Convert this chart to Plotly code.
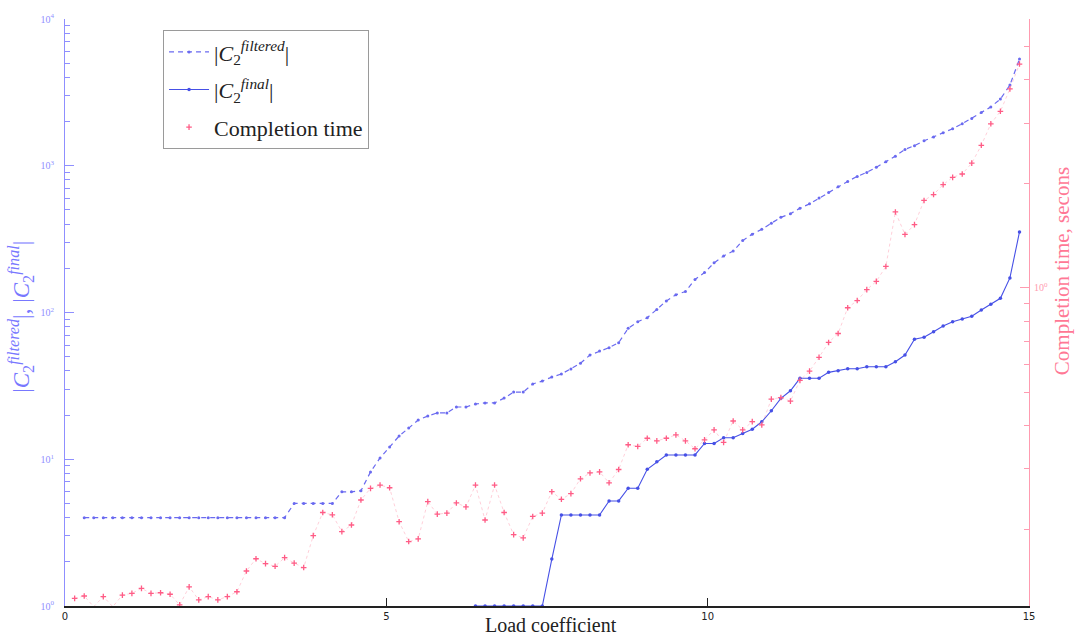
import plotly.graph_objects as go

# Load coefficient grid
loads = [0.150, 0.299, 0.447, 0.596, 0.744, 0.893, 1.041, 1.190, 1.338, 1.487,
         1.635, 1.784, 1.932, 2.081, 2.229, 2.378, 2.526, 2.675, 2.823, 2.972,
         3.120, 3.269, 3.417, 3.566, 3.714, 3.863, 4.011, 4.160, 4.308, 4.457,
         4.605, 4.754, 4.902, 5.051, 5.199, 5.348, 5.496, 5.645, 5.793, 5.942,
         6.090, 6.239, 6.387, 6.536, 6.684, 6.833, 6.981, 7.130, 7.278, 7.427,
         7.575, 7.724, 7.872, 8.021, 8.169, 8.318, 8.466, 8.615, 8.763, 8.912,
         9.060, 9.209, 9.357, 9.506, 9.654, 9.803, 9.951, 10.100, 10.248, 10.397,
         10.545, 10.694, 10.842, 10.991, 11.139, 11.288, 11.436, 11.585, 11.733, 11.882,
         12.030, 12.179, 12.327, 12.476, 12.624, 12.773, 12.921, 13.070, 13.218, 13.367,
         13.515, 13.664, 13.812, 13.961, 14.109, 14.258, 14.406, 14.555, 14.703, 14.852]

c2_filtered = [None,
               4.0, 4.0, 4.0, 4.0, 4.0, 4.0, 4.0, 4.0, 4.0, 4.0, 4.0,
               4.0, 4.0, 4.0, 4.0, 4.0, 4.0, 4.0, 4.0, 4.0, 4.0, 4.0,
               5.0, 5.0, 5.0, 5.0, 5.0,
               6.0, 6.0, 6.1,
               8.2, 10.2, 12.1, 14.4, 16.3, 18.5, 19.7, 20.7, 20.7, 22.7,
               22.7, 23.8, 24.2, 24.2, 26.1, 28.7, 28.7, 32.6, 34.1, 36.3, 38.1,
               41.2, 45.1, 51.3, 54.7, 57.6, 62.3, 78.0, 86.6, 92.2, 105,
               120, 132, 139, 168, 187, 218, 243, 262,
               309, 342, 369, 406, 445, 471, 514, 550, 602, 658,
               720, 782, 846, 901, 977, 1064, 1163, 1292, 1371, 1479,
               1570, 1678, 1786, 1935, 2099, 2306, 2518, 2846, 3550, 5335]

c2_final = [None] * 42 + [
    1.0, 1.0, 1.0, 1.0, 1.0, 1.0, 1.0, 1.0,
    2.09, 4.17, 4.17, 4.17, 4.17, 4.17, 5.2, 5.2, 6.34, 6.34,
    8.54, 9.62, 10.7, 10.7, 10.7, 10.7, 12.8, 12.8, 14.0, 14.0,
    15.0, 16.0, 18.0, 21.4, 26.0, 29.3, 35.6, 35.6, 35.6, 39.1,
    40.1, 41.4, 41.4, 42.7, 42.7, 42.7, 46.2, 51.3, 65.7, 67.8,
    74.0, 80.9, 86.6, 90.3, 94.2, 104, 114, 125, 172, 354]

completion_time = [
    0.1265, 0.1285, 0.1197, 0.1280, 0.1197, 0.1293, 0.1308, 0.1352, 0.1308, 0.1313,
    0.1300, 0.1211, 0.1366, 0.1252, 0.1280, 0.1252, 0.1280, 0.1322, 0.1518, 0.1647,
    0.1594, 0.1566, 0.1659, 0.1600, 0.1553, 0.1921, 0.2241, 0.2207, 0.1973, 0.2062,
    0.2436, 0.2632, 0.2691, 0.2643, 0.2108, 0.1847, 0.1880, 0.2410, 0.2217, 0.2232,
    0.2388, 0.2326, 0.2691, 0.2132, 0.2691, 0.2241, 0.1934, 0.1893, 0.2183, 0.2232,
    0.2574, 0.2447, 0.2541, 0.2805, 0.2917, 0.2937, 0.2731, 0.2984, 0.3519, 0.3480,
    0.3675, 0.3612, 0.3675, 0.3759, 0.3612, 0.3427, 0.3636, 0.3886, 0.3573, 0.4123,
    0.3886, 0.4104, 0.4015, 0.4768, 0.4819, 0.4706, 0.5403, 0.5745, 0.6302, 0.6956,
    0.7384, 0.8764, 0.9196, 0.9890, 1.045, 1.154, 1.659, 1.428, 1.525, 1.791,
    1.863, 1.990, 2.089, 2.136, 2.296, 2.586, 2.984, 3.243, 3.766, 4.443]

x_ticks = [0, 5, 10, 15]
y_major = [1, 10, 100, 1000, 10000]
y_major_text = ["10<sup>0</sup>", "10<sup>1</sup>", "10<sup>2</sup>", "10<sup>3</sup>", "10<sup>4</sup>"]
y_minor = [m * d for d in [1, 10, 100, 1000] for m in range(2, 10)]
y2_major = [1]
y2_major_text = ["10<sup>0</sup>"]
y2_minor = [0.2, 0.3, 0.4, 0.5, 0.6, 0.7, 0.8, 0.9, 2, 3, 4, 5, 6]

BLUE = "#4650e6"
BLUE_LIGHT = "#6a6af0"
AXBLUE = "#8f8fff"
PINK = "#ff5c86"
AXPINK = "#ff9bb0"
SERIF = "Liberation Serif, DejaVu Serif, serif"

fig = go.Figure()

fig.add_trace(go.Scatter(
    x=loads, y=c2_filtered, mode="lines+markers",
    name="|<i>C</i><sub>2</sub><sup><i>filtered</i></sup>|",
    legendgroup="a",
    line=dict(color=BLUE_LIGHT, width=1.2, dash="5px,4px"),
    marker=dict(color=BLUE_LIGHT, size=3),
    cliponaxis=False, yaxis="y"))

fig.add_trace(go.Scatter(
    x=loads, y=c2_final, mode="lines+markers",
    name="|<i>C</i><sub>2</sub><sup><i>final</i></sup>|",
    legendgroup="b",
    line=dict(color=BLUE, width=1.1),
    marker=dict(color=BLUE, size=3.5),
    cliponaxis=False, yaxis="y"))

fig.add_trace(go.Scatter(
    x=loads, y=completion_time, mode="lines",
    line=dict(color="rgba(255,160,180,0.5)", width=1, dash="dot"),
    showlegend=False, hoverinfo="skip", yaxis="y2"))

fig.add_trace(go.Scatter(
    x=loads, y=completion_time, mode="markers",
    name="Completion time",
    legendgroup="c",
    marker=dict(symbol="cross-thin", size=4, color=PINK,
                line=dict(color=PINK, width=1.3)),
    cliponaxis=False, yaxis="y2"))

fig.update_layout(
    width=1075, height=637,
    margin=dict(l=65, r=46, t=17, b=31),
    paper_bgcolor="white", plot_bgcolor="white",
    showlegend=True,
    legend=dict(x=0.1017, y=0.981, xanchor="left", yanchor="top",
                bgcolor="white", bordercolor="#9a9a9a", borderwidth=1,
                font=dict(family=SERIF, size=22, color="#222"),
                itemwidth=40, tracegroupgap=6),
    xaxis=dict(range=[0, 15], tickmode="array", tickvals=x_ticks,
               ticktext=[str(v) for v in x_ticks],
               ticks="inside", ticklen=8, tickcolor="#222", tickwidth=1.2,
               showline=True, linecolor="#222", linewidth=1.5,
               showgrid=False, zeroline=False,
               tickfont=dict(family="DejaVu Sans", size=10, color="#222")),
    yaxis=dict(type="log", range=[0, 4], tickmode="array", tickvals=y_major,
               ticktext=y_major_text, ticks="inside", ticklen=9,
               tickcolor=AXBLUE, showline=True, linecolor=AXBLUE, linewidth=1.2,
               showgrid=False, zeroline=False, ticklabelstandoff=8,
               tickfont=dict(family=SERIF, size=10, color=AXBLUE),
               minor=dict(tickmode="array", tickvals=y_minor, ticks="inside",
                          ticklen=5, tickcolor=AXBLUE, showgrid=False)),
    yaxis2=dict(type="log", range=[-0.92, 0.778], overlaying="y", side="right",
                tickmode="array", tickvals=y2_major, ticktext=y2_major_text,
                ticks="inside", ticklen=9, tickcolor=AXPINK,
                showline=True, linecolor=AXPINK, linewidth=1.2,
                showgrid=False, zeroline=False, ticklabelstandoff=2,
                tickfont=dict(family=SERIF, size=10, color=AXPINK),
                minor=dict(tickmode="array", tickvals=y2_minor, ticks="inside",
                           ticklen=5, tickcolor=AXPINK, showgrid=False)),
    annotations=[
        dict(text="Load coefficient", xref="paper", yref="paper",
             x=0.504, y=-0.032, xanchor="center", yanchor="middle",
             showarrow=False, font=dict(family=SERIF, size=20, color="#222")),
        dict(text="|<i>C</i><sub>2</sub><sup><i>filtered</i></sup>|, |<i>C</i><sub>2</sub><sup><i>final</i></sup>|",
             xref="paper", yref="paper", x=-0.046, y=0.492,
             xanchor="center", yanchor="middle", textangle=-90,
             showarrow=False, font=dict(family=SERIF, size=23, color="#7878ff")),
        dict(text="Completion time, secons", xref="paper", yref="paper",
             x=1.035, y=0.57, xanchor="center", yanchor="middle", textangle=-90,
             showarrow=False, font=dict(family=SERIF, size=21, color="#ff7895")),
    ],
)

fig.write_html("out.html", config={"displayModeBar": False},
               post_script="document.body.style.margin='0px';")
